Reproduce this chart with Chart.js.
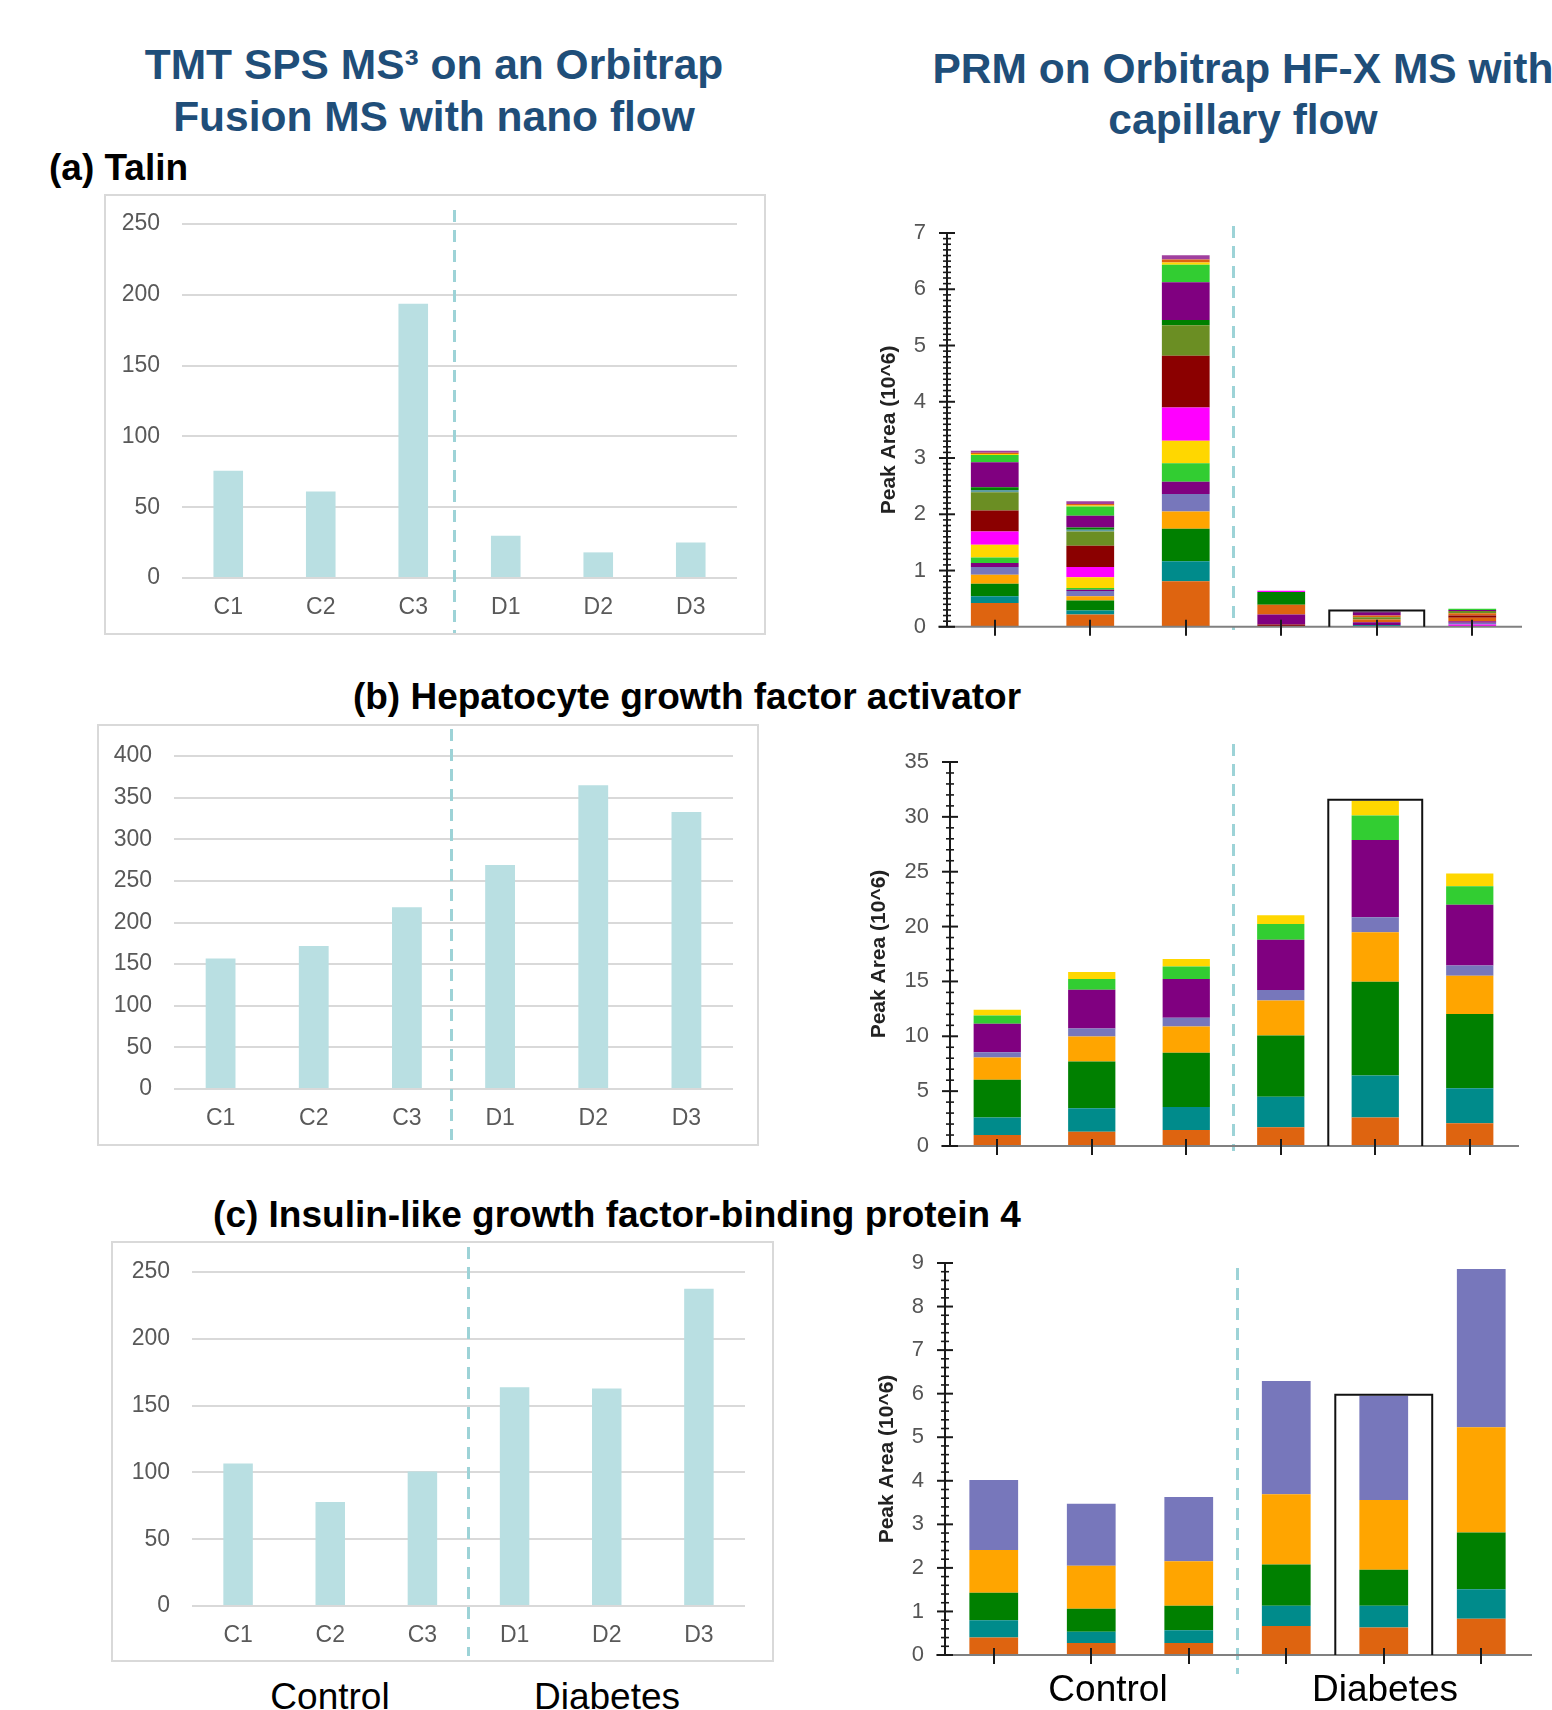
<!DOCTYPE html>
<html>
<head>
<meta charset="utf-8">
<title>Talin, HGFA and IGFBP4: TMT vs PRM</title>
<script src="https://cdn.jsdelivr.net/npm/chart.js@4.4.1/dist/chart.umd.min.js"></script>
<style>
  html, body { margin: 0; padding: 0; background: #fff; }
  #page { position: relative; width: 1552px; height: 1710px; overflow: hidden;
          font-family: 'Liberation Sans', Arial, sans-serif; }
  .t { position: absolute; white-space: nowrap; line-height: 1; }
  .head { color: #1F4E79; font-weight: bold; font-size: 42.5px; }
  .panel { color: #000; font-weight: bold; font-size: 37px; }
  .grp { color: #000; font-size: 37px; }
  .c { transform: translate(-50%, -50%); }
  .l { transform: translate(0, -50%); }
  .frame { position: absolute; border: 2px solid #d9d9d9; box-sizing: border-box; }
  canvas { position: absolute; }
</style>
</head>
<body>
<div id="page">
  <div class="frame" style="left:104px;top:194px;width:662px;height:441px"></div>
  <div class="frame" style="left:97px;top:724px;width:662px;height:422px"></div>
  <div class="frame" style="left:111px;top:1241px;width:663px;height:421px"></div>

  <canvas id="tmtA"></canvas>
  <canvas id="tmtB"></canvas>
  <canvas id="tmtC"></canvas>
  <canvas id="prmA"></canvas>
  <canvas id="prmB"></canvas>
  <canvas id="prmC"></canvas>

  <div class="t head c" style="left:434px;top:65px">TMT SPS MS³ on an Orbitrap</div>
  <div class="t head c" style="left:434px;top:117px">Fusion MS with nano flow</div>
  <div class="t head c" style="left:1243px;top:69px">PRM on Orbitrap HF-X MS with</div>
  <div class="t head c" style="left:1243px;top:120px">capillary flow</div>

  <div class="t panel l" style="left:49px;top:167px">(a) Talin</div>
  <div class="t panel c" style="left:687px;top:696px">(b) Hepatocyte growth factor activator</div>
  <div class="t panel c" style="left:617px;top:1214px">(c) Insulin-like growth factor-binding protein 4</div>

  <div class="t grp c" style="left:330px;top:1696px">Control</div>
  <div class="t grp c" style="left:607px;top:1696px">Diabetes</div>
  <div class="t grp c" style="left:1108px;top:1688px">Control</div>
  <div class="t grp c" style="left:1385px;top:1688px">Diabetes</div>
</div>

<script>
// ---- samples ----
const SAMPLES = ['C1', 'C2', 'C3', 'D1', 'D2', 'D3'];

// ---- TMT SPS MS3 relative abundance per sample ----
const TALIN_TMT  = [75.8, 61.0, 193.7, 29.9, 18.1, 25.0];
const HGFA_TMT   = [156.7, 171.9, 218.2, 269.2, 364.9, 332.6];
const IGFBP4_TMT = [106.7, 77.8, 100.7, 163.8, 162.8, 237.5];

// ---- PRM peak areas (10^6); one row per stacked peptide/transition, columns = SAMPLES ----
const TALIN_PRM = [
  [0.425, 0.218, 0.809, 0, 0, 0],
  [0.118, 0.071, 0.354, 0, 0, 0],
  [0.224, 0.177, 0.579, 0, 0, 0],
  [0.160, 0.077, 0.307, 0, 0, 0],
  [0.136, 0.095, 0.313, 0, 0, 0],
  [0.071, 0.020, 0.218, 0, 0, 0],
  [0.100, 0.033, 0.326, 0, 0, 0],
  [0.224, 0.188, 0.401, 0, 0, 0],
  [0.237, 0.184, 0.593, 0, 0, 0],
  [0.372, 0.378, 0.920, 0, 0, 0],
  [0.325, 0.254, 0.540, 0, 0, 0],
  [0.041, 0.029, 0.000, 0, 0, 0],
  [0.047, 0.041, 0.095, 0, 0, 0],
  [0.444, 0.207, 0.668, 0, 0, 0],
  [0.129, 0.166, 0.314, 0, 0, 0],
  [0.020, 0.020, 0.040, 0, 0, 0],
  [0.020, 0.027, 0.050, 0, 0, 0],
  [0.037, 0.048, 0.076, 0, 0, 0],
  [0, 0, 0, 0.04, 0.00, 0.00],
  [0, 0, 0, 0.00, 0.03, 0.00],
  [0, 0, 0, 0.00, 0.00, 0.04],
  [0, 0, 0, 0.00, 0.00, 0.03],
  [0, 0, 0, 0.18, 0.05, 0.03],
  [0, 0, 0, 0.17, 0.05, 0.06],
  [0, 0, 0, 0.00, 0.00, 0.04],
  [0, 0, 0, 0.00, 0.04, 0.00],
  [0, 0, 0, 0.00, 0.03, 0.04],
  [0, 0, 0, 0.23, 0.00, 0.00],
  [0, 0, 0, 0.00, 0.00, 0.04],
  [0, 0, 0, 0.00, 0.05, 0.02],
  [0, 0, 0, 0.00, 0.02, 0.00],
  [0, 0, 0, 0.00, 0.00, 0.02],
  [0, 0, 0, 0.02, 0.00, 0.00]
];
const HGFA_PRM = [
  [1.00, 1.31, 1.46, 1.70, 2.59, 2.07],
  [1.59, 2.13, 2.10, 2.80, 3.83, 3.19],
  [3.44, 4.26, 4.93, 5.57, 8.55, 6.76],
  [2.03, 2.28, 2.41, 3.20, 4.51, 3.50],
  [0.49, 0.73, 0.79, 0.94, 1.37, 0.94],
  [2.59, 3.53, 3.53, 4.60, 7.03, 5.54],
  [0.76, 0.98, 1.15, 1.43, 2.25, 1.68],
  [0.52, 0.63, 0.67, 0.79, 1.34, 1.15]
];
const IGFBP4_PRM = [
  [0.40, 0.275, 0.275, 0.665, 0.63, 0.83],
  [0.40, 0.260, 0.295, 0.465, 0.50, 0.68],
  [0.63, 0.525, 0.560, 0.950, 0.83, 1.30],
  [0.98, 0.990, 1.020, 1.610, 1.60, 2.42],
  [1.61, 1.420, 1.480, 2.600, 2.39, 3.63]
];

// ---- styling ----
const PALETTE = {
  chocolate: '#DE6410', teal: '#008B8B', green: '#008000', amber: '#FFA500',
  slate: '#7777BB', purple: '#800080', lime: '#32CD32', gold: '#FFD700',
  magenta: '#FF00FF', darkred: '#8B0000', olive: '#6B8E23', cadet: '#5F9EA0',
  orchid: '#A0409F', plum: '#4B0055'
};
const TALIN_PRM_KEYS = [
  'chocolate', 'teal', 'green', 'amber', 'slate', 'purple', 'lime', 'gold', 'magenta',
  'darkred', 'olive', 'cadet', 'green', 'purple', 'lime', 'gold', 'chocolate', 'orchid',
  'darkred', 'teal', 'magenta', 'slate', 'purple', 'chocolate', 'darkred', 'olive',
  'chocolate', 'green', 'olive', 'purple', 'plum', 'lime', 'magenta'
];
const HGFA_PRM_KEYS = ['chocolate', 'teal', 'green', 'amber', 'slate', 'purple', 'lime', 'gold'];
const IGFBP4_PRM_KEYS = ['chocolate', 'teal', 'green', 'amber', 'slate'];

const TMT_BAR = '#B9DFE2';
const DIVIDER = '#9DD3D7';
const NARROW = "'Liberation Sans Narrow', 'Arial Narrow', 'Liberation Sans', Arial, sans-serif";
const SANS = "'Liberation Sans', Arial, sans-serif";
const CLEAR = 'rgba(0,0,0,0)';

// Dashed separator between the control and diabetes groups
const groupDivider = {
  id: 'groupDivider',
  afterDatasetsDraw(chart, args, o) {
    const x = chart.scales.x;
    const xm = (x.getPixelForValue(2) + x.getPixelForValue(3)) / 2 + (o.offset || 0);
    const ctx = chart.ctx;
    ctx.save();
    ctx.strokeStyle = o.color;
    ctx.lineWidth = o.width;
    ctx.setLineDash(o.dash);
    ctx.beginPath();
    ctx.moveTo(xm, o.top);
    ctx.lineTo(xm, o.bottom);
    ctx.stroke();
    ctx.restore();
  }
};

// Skyline-style axes: ruler ticks on y, short ticks at each replicate, highlight box
const prmAxes = {
  id: 'prmAxes',
  afterDatasetsDraw(chart, args, o) {
    const { ctx, chartArea: a, scales: { x, y } } = chart;
    const seg = (x1, y1, x2, y2) => { ctx.beginPath(); ctx.moveTo(x1, y1); ctx.lineTo(x2, y2); ctx.stroke(); };
    ctx.save();
    ctx.lineCap = 'butt';
    ctx.strokeStyle = '#808080';
    ctx.lineWidth = 2;
    seg(a.left - 9, a.bottom, a.right + 2, a.bottom);

    ctx.strokeStyle = '#1a1a1a';
    for (let i = 0; i < chart.data.labels.length; i++) {
      const px = Math.round(x.getPixelForValue(i));
      seg(px, a.bottom - 7, px, a.bottom + 9);
    }
    seg(a.left, a.bottom, a.left, y.getPixelForValue(y.max));
    const n = Math.round(y.max / o.minor);
    const perMajor = Math.round(o.major / o.minor);
    for (let k = 0; k <= n; k++) {
      const py = y.getPixelForValue(k * o.minor);
      const isMajor = k % perMajor === 0;
      ctx.lineWidth = isMajor ? 2 : 1.6;
      const h = isMajor ? 8 : 4;
      seg(a.left - h, py, a.left + h, py);
    }

    if (o.boxIndex !== undefined && o.boxIndex !== null) {
      let total = 0;
      chart.data.datasets.forEach(ds => { total += ds.data[o.boxIndex]; });
      const cx = x.getPixelForValue(o.boxIndex);
      const hw = (x.getPixelForValue(1) - x.getPixelForValue(0)) * 0.497;
      const top = y.getPixelForValue(total) - 1;
      ctx.strokeStyle = '#111';
      ctx.lineWidth = 2;
      ctx.beginPath();
      ctx.moveTo(cx - hw, a.bottom);
      ctx.lineTo(cx - hw, top);
      ctx.lineTo(cx + hw, top);
      ctx.lineTo(cx + hw, a.bottom);
      ctx.stroke();
    }
    ctx.restore();
  }
};

function place(cv, f) {
  cv.width = f.W;
  cv.height = f.H;
  cv.style.left = f.L + 'px';
  cv.style.top = f.T + 'px';
  cv.style.width = f.W + 'px';
  cv.style.height = f.H + 'px';
}

function tmtChart(id, f, area, values, maxY, stepY, dividerY, dividerShift) {
  const cv = document.getElementById(id);
  place(cv, f);
  return new Chart(cv, {
    type: 'bar',
    data: {
      labels: SAMPLES,
      datasets: [{ data: values, backgroundColor: TMT_BAR, borderWidth: 0,
                   barPercentage: 0.32, categoryPercentage: 1 }]
    },
    options: {
      responsive: false, animation: false, events: [],
      layout: { padding: { left: 0, top: area.top - f.T, right: f.L + f.W - area.right, bottom: 0 } },
      plugins: {
        legend: { display: false }, tooltip: { enabled: false },
        groupDivider: { color: DIVIDER, width: 3, dash: [12, 8], offset: dividerShift,
                        top: dividerY[0] - f.T, bottom: dividerY[1] - f.T }
      },
      scales: {
        x: {
          grid: { display: false, drawTicks: false }, border: { display: false },
          ticks: { color: '#595959', font: { family: NARROW, size: 23 }, padding: 16 },
          afterFit(s) { s.height = f.T + f.H - area.bottom; }
        },
        y: {
          min: 0, max: maxY,
          grid: { color: '#d9d9d9', lineWidth: 2, drawTicks: true, tickLength: 22, tickColor: CLEAR },
          border: { display: false },
          ticks: { stepSize: stepY, color: '#595959', font: { family: NARROW, size: 23 }, padding: 0 },
          afterFit(s) { s.width = area.left - f.L; }
        }
      }
    },
    plugins: [groupDivider]
  });
}

function prmChart(id, f, area, rows, keys, maxY, major, minor, titlePad, boxIndex, dividerY) {
  const cv = document.getElementById(id);
  place(cv, f);
  return new Chart(cv, {
    type: 'bar',
    data: {
      labels: SAMPLES,
      datasets: rows.map((r, i) => ({
        data: r, backgroundColor: PALETTE[keys[i]], borderWidth: 0,
        barPercentage: 0.5, categoryPercentage: 1, stack: 'peaks'
      }))
    },
    options: {
      responsive: false, animation: false, events: [],
      layout: { padding: { left: 0, top: area.top - f.T, right: f.L + f.W - area.right, bottom: 0 } },
      plugins: {
        legend: { display: false }, tooltip: { enabled: false },
        prmAxes: { major, minor, boxIndex },
        groupDivider: { color: DIVIDER, width: 3, dash: [12, 8],
                        top: dividerY[0] - f.T, bottom: dividerY[1] - f.T }
      },
      scales: {
        x: {
          stacked: true,
          grid: { display: false, drawTicks: false }, border: { display: false },
          ticks: { display: false },
          afterFit(s) { s.height = f.T + f.H - area.bottom; }
        },
        y: {
          stacked: true, min: 0, max: maxY,
          grid: { display: false, drawTicks: true, tickLength: 21, tickColor: CLEAR },
          border: { display: false },
          ticks: { stepSize: major, color: '#555', font: { family: NARROW, size: 22 }, padding: 0 },
          title: { display: true, text: 'Peak Area (10^6)', color: '#222',
                   font: { family: SANS, size: 21, weight: 'bold' },
                   padding: { top: titlePad, bottom: 0 } },
          afterFit(s) { s.width = area.left - f.L; }
        }
      }
    },
    plugins: [groupDivider, prmAxes]
  });
}

// TMT SPS MS3 panels
tmtChart('tmtA', { L: 104, T: 194, W: 662, H: 441 }, { left: 182, right: 737, top: 224, bottom: 578 },
         TALIN_TMT, 250, 50, [210, 633], -5);
tmtChart('tmtB', { L: 97, T: 724, W: 662, H: 422 }, { left: 174, right: 733, top: 756, bottom: 1089 },
         HGFA_TMT, 400, 50, [729, 1140], -2);
tmtChart('tmtC', { L: 111, T: 1241, W: 663, H: 421 }, { left: 192, right: 745, top: 1272, bottom: 1606 },
         IGFBP4_TMT, 250, 50, [1247, 1656], 0);

// PRM panels
prmChart('prmA', { L: 860, T: 200, W: 692, H: 440 }, { left: 947, right: 1520, top: 233, bottom: 628 },
         TALIN_PRM, TALIN_PRM_KEYS, 7, 1, 0.1, 16.4, 4, [226, 630]);
prmChart('prmB', { L: 860, T: 730, W: 692, H: 430 }, { left: 950, right: 1517, top: 762, bottom: 1146 },
         HGFA_PRM, HGFA_PRM_KEYS, 35, 5, 1, 6.4, 4, [744, 1151]);
prmChart('prmC', { L: 860, T: 1245, W: 692, H: 440 }, { left: 945, right: 1530, top: 1263, bottom: 1655 },
         IGFBP4_PRM, IGFBP4_PRM_KEYS, 9, 1, 0.2, 14.4, 4, [1268, 1674]);
</script>
</body>
</html>
